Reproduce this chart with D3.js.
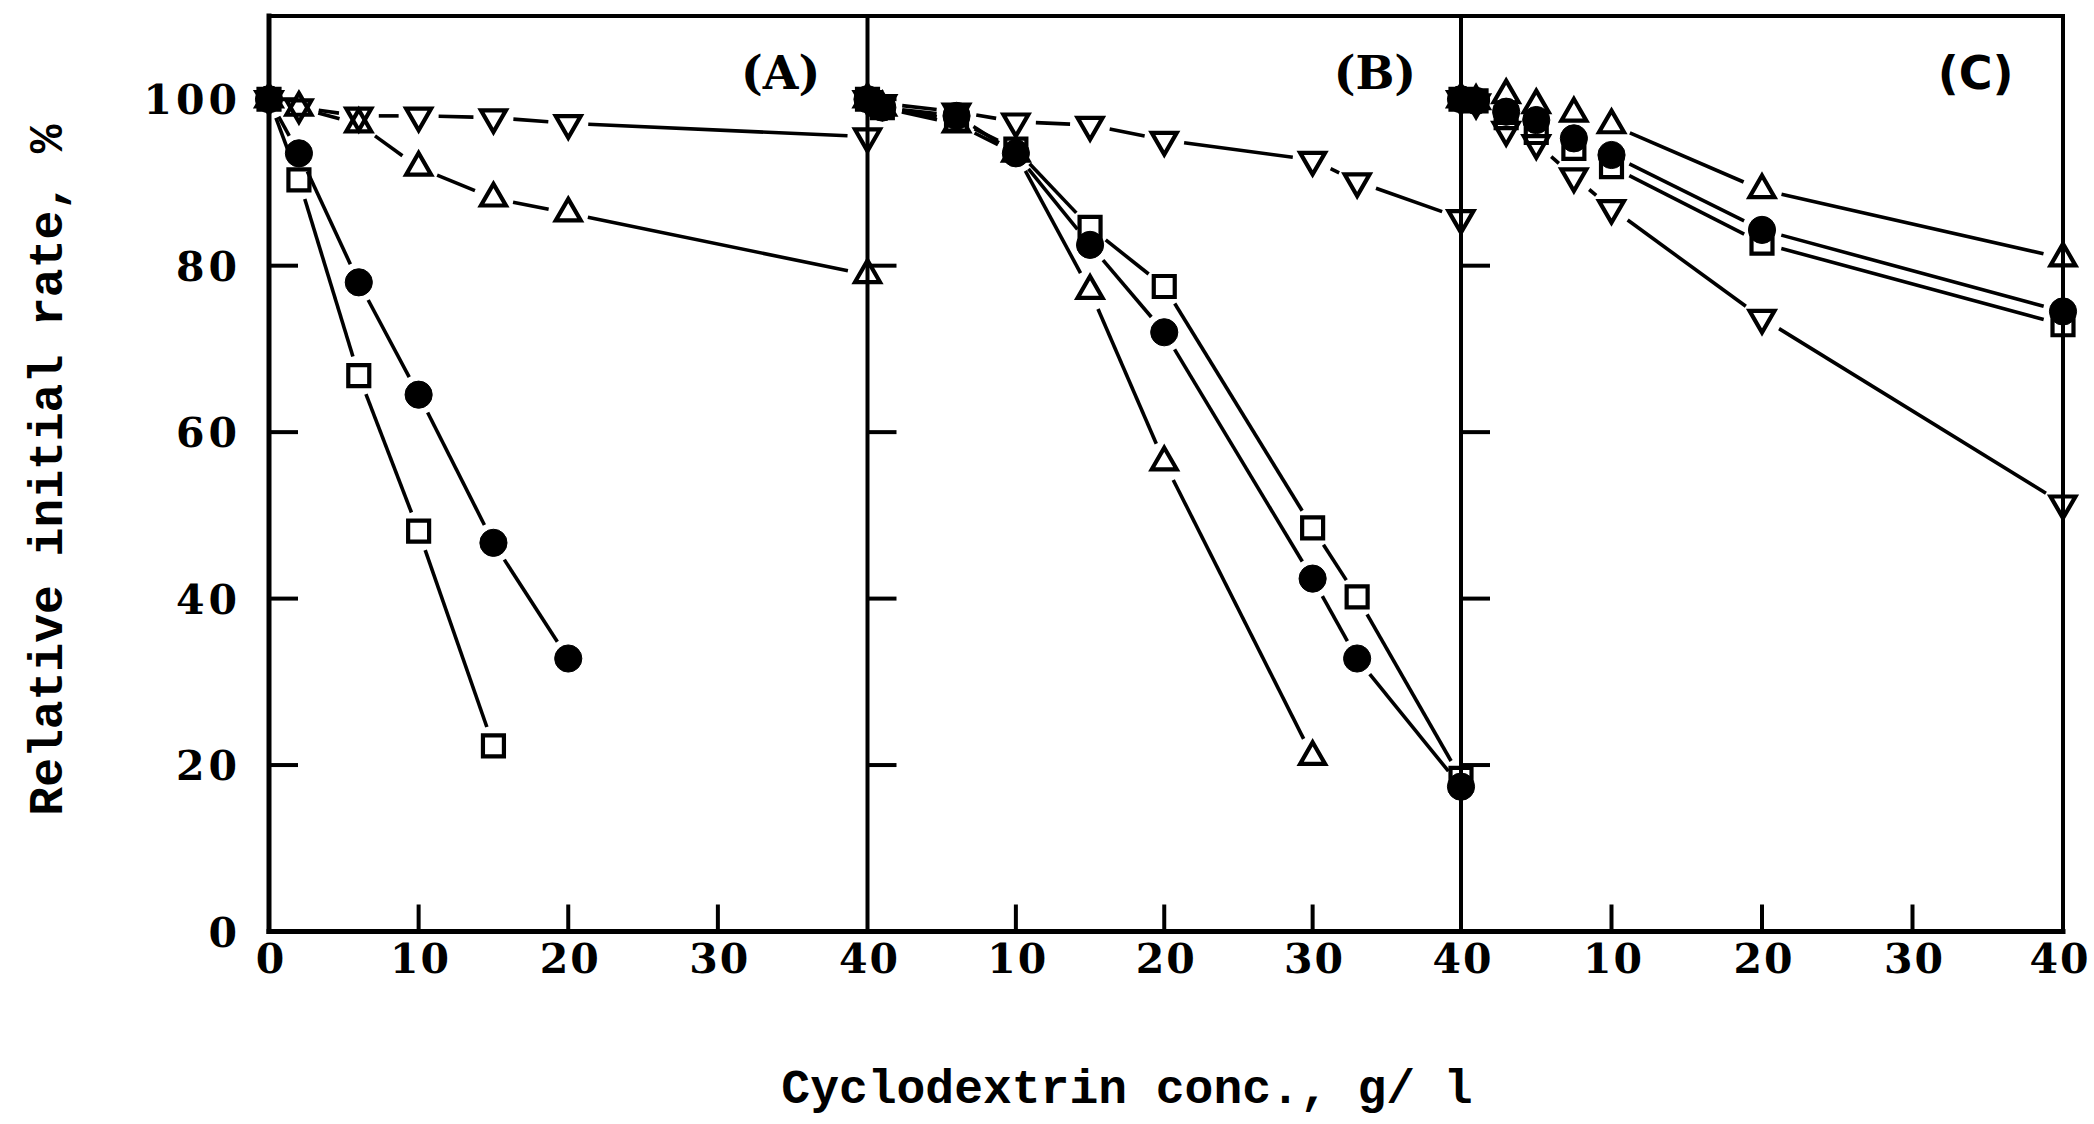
<!DOCTYPE html>
<html><head><meta charset="utf-8">
<script src="https://cdn.jsdelivr.net/npm/d3@7"></script>
<style>html,body{margin:0;padding:0;background:#fff;}svg{display:block;}</style>
</head><body>
<svg id="chart" width="2094" height="1124"></svg>
<script>
// ---------- data ----------
const panelNames = ["(A)", "(B)", "(C)"];
const yTicks = [0, 20, 40, 60, 80, 100];
const xTicks = [0, 10, 20, 30, 40];

// Panel A
const aCircleX = [0, 2, 6, 10, 15, 20];
const aCircleY = [100, 93.5, 78, 64.5, 46.7, 32.8];
const aSquareX = [0, 2, 6, 10, 15];
const aSquareY = [100, 90.3, 66.8, 48.1, 22.3];
const aUpX = [0, 2, 6, 10, 15, 20, 40];
const aUpY = [100, 99, 97, 91.8, 88.1, 86.3, 78.9];
const aDownX = [0, 2, 6, 10, 15, 20, 40];
const aDownY = [100, 99, 98, 98, 97.8, 97.1, 95.5];

// Panel B
const bCircleX = [0, 1, 6, 10, 15, 20, 30, 33, 40];
const bCircleY = [100, 99, 98, 93.5, 82.5, 72, 42.4, 32.8, 17.4];
const bSquareX = [0, 1, 6, 10, 15, 20, 30, 33, 40];
const bSquareY = [100, 99, 97.5, 94, 84.6, 77.5, 48.5, 40.2, 18.4];
const bUpX = [0, 1, 6, 10, 15, 20, 30];
const bUpY = [100, 99, 97, 93.5, 77, 56.4, 21];
const bDownX = [0, 1, 6, 10, 15, 20, 30, 33, 40];
const bDownY = [100, 99.5, 98.5, 97.3, 96.9, 95.1, 92.7, 90.1, 85.7];

// Panel C
const cX = [0, 1, 3, 5, 7.5, 10, 20, 40];
const cUpY = [100, 99.8, 100.5, 99.3, 98.3, 96.9, 89.1, 80.9];
const cCircleY = [100, 99.8, 98.5, 97.5, 95.3, 93.3, 84.3, 74.5];
const cSquareY = [100, 99.8, 97.8, 96, 94.1, 91.9, 82.7, 72.9];
const cDownY = [100, 99.6, 96.3, 94.7, 90.7, 86.9, 73.7, 51.4];

const zip = (xs, ys) => xs.map((x, i) => ({x, y: ys[i]}));
const panels = [
  {name: panelNames[0], series: [
    {shape: "circle", pts: zip(aCircleX, aCircleY)},
    {shape: "square", pts: zip(aSquareX, aSquareY)},
    {shape: "up", pts: zip(aUpX, aUpY)},
    {shape: "down", pts: zip(aDownX, aDownY)}]},
  {name: panelNames[1], series: [
    {shape: "circle", pts: zip(bCircleX, bCircleY)},
    {shape: "square", pts: zip(bSquareX, bSquareY)},
    {shape: "up", pts: zip(bUpX, bUpY)},
    {shape: "down", pts: zip(bDownX, bDownY)}]},
  {name: panelNames[2], series: [
    {shape: "up", pts: zip(cX, cUpY)},
    {shape: "circle", pts: zip(cX, cCircleY)},
    {shape: "square", pts: zip(cX, cSquareY)},
    {shape: "down", pts: zip(cX, cDownY)}]}
];

// ---------- layout ----------
const svg = d3.select("#chart");
const plotTop = 16, plotBottom = 931.5;
const edges = [269, 867.5, 1461, 2063];
const y = d3.scaleLinear().domain([0, 110]).range([plotBottom, plotTop]);
const tickFont = "'DejaVu Serif', serif";
const titleFont = "'Liberation Mono', 'DejaVu Sans Mono', monospace";

const g = svg.append("g");

// frame lines
const frame = g.append("g").attr("stroke", "#000").attr("fill", "none").attr("stroke-linecap", "square");
frame.append("line").attr("x1", edges[0]).attr("x2", edges[3]).attr("y1", plotTop).attr("y2", plotTop).attr("stroke-width", 4);
frame.append("line").attr("x1", edges[0]).attr("x2", edges[3]).attr("y1", plotBottom).attr("y2", plotBottom).attr("stroke-width", 5);
edges.forEach((e, i) => {
  frame.append("line").attr("x1", e).attr("x2", e).attr("y1", plotTop).attr("y2", plotBottom)
    .attr("stroke-width", i === 0 ? 5 : 4);
});

panels.forEach((p, pi) => {
  const x = d3.scaleLinear().domain([0, 40]).range([edges[pi], edges[pi + 1]]);
  const pg = g.append("g");

  // y ticks pointing right from panel's left edge
  pg.selectAll(".yt").data(yTicks.filter(v => v > 0)).join("line")
    .attr("x1", x(0)).attr("x2", x(0) + 29)
    .attr("y1", d => y(d)).attr("y2", d => y(d))
    .attr("stroke", "#000").attr("stroke-width", 4);

  // x ticks pointing up
  pg.selectAll(".xt").data(xTicks.filter(v => v > 0 && v < 40)).join("line")
    .attr("x1", d => x(d)).attr("x2", d => x(d))
    .attr("y1", plotBottom).attr("y2", plotBottom - 27)
    .attr("stroke", "#000").attr("stroke-width", 4);

  // x tick labels
  pg.selectAll(".xl").data(xTicks.filter(v => pi === 0 || v > 0)).join("text")
    .attr("x", d => Math.min(x(d) + 2, 2060))
    .attr("y", 973)
    .attr("text-anchor", "middle")
    .attr("font-family", tickFont).attr("font-weight", "bold").attr("font-size", 41)
    .attr("letter-spacing", 2)
    .text(d => d);

  // panel label
  pg.append("text")
    .attr("x", x(34.2)).attr("y", 89)
    .attr("text-anchor", "middle")
    .attr("font-family", pi === 2 ? "'DejaVu Sans', sans-serif" : tickFont)
    .attr("font-weight", "bold").attr("font-size", 46)
    .text(p.name);

  // lines with gaps near markers
  const gap = 20;
  p.series.forEach(s => {
    const px = s.pts.map(d => [x(d.x), y(d.y)]);
    for (let i = 0; i < px.length - 1; i++) {
      const [x1, y1] = px[i], [x2, y2] = px[i + 1];
      const len = Math.hypot(x2 - x1, y2 - y1);
      if (len <= 2 * gap + 3) continue;
      const ux = (x2 - x1) / len, uy = (y2 - y1) / len;
      pg.append("line")
        .attr("x1", x1 + ux * gap).attr("y1", y1 + uy * gap)
        .attr("x2", x2 - ux * gap).attr("y2", y2 - uy * gap)
        .attr("stroke", "#000").attr("stroke-width", 3.6);
    }
  });

  // markers
  const sym = {
    circle: d3.symbol().type(d3.symbolCircle).size(580),
    square: d3.symbol().type(d3.symbolSquare).size(440),
    up: d3.symbol().type(d3.symbolTriangle).size(270),
    down: d3.symbol().type(d3.symbolTriangle).size(270)
  };
  p.series.forEach(s => {
    pg.selectAll(null).data(s.pts).join("path")
      .attr("d", sym[s.shape]())
      .attr("transform", d => `translate(${x(d.x)},${y(d.y)})` + (s.shape === "down" ? " rotate(180)" : ""))
      .attr("fill", s.shape === "circle" ? "#000" : "none")
      .attr("stroke", "#000")
      .attr("stroke-width", s.shape === "circle" ? 1 : 4.2)
      .attr("stroke-linejoin", "miter");
  });
});

// y tick labels
g.selectAll(".yl").data(yTicks).join("text")
  .attr("x", 241).attr("y", d => y(d) + 15)
  .attr("text-anchor", "end")
  .attr("font-family", tickFont).attr("font-weight", "bold").attr("font-size", 41)
  .attr("letter-spacing", 4)
  .text(d => d);

// axis titles
g.append("text")
  .attr("transform", "translate(62,470) rotate(-90)")
  .attr("text-anchor", "middle")
  .attr("font-family", titleFont).attr("font-weight", "bold").attr("font-size", 48)
  .text("Relative initial rate, %");

g.append("text")
  .attr("x", 1127).attr("y", 1103)
  .attr("text-anchor", "middle")
  .attr("font-family", titleFont).attr("font-weight", "bold").attr("font-size", 48)
  .text("Cyclodextrin conc., g/ l");
</script>
</body></html>
